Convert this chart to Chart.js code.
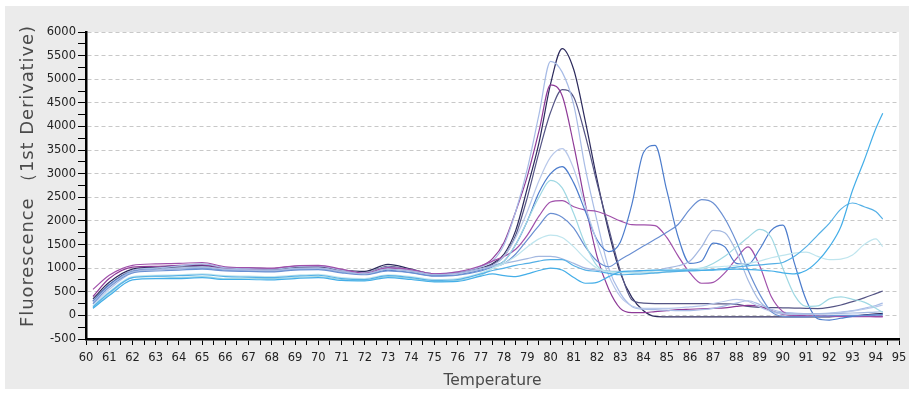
<!DOCTYPE html>
<html><head><meta charset="utf-8">
<script src="https://cdn.jsdelivr.net/npm/chart.js@4"></script>
<style>
html,body{margin:0;padding:0;background:#fff;}
#frame{position:absolute;left:5px;top:6px;width:904px;height:383px;background:#ebebeb;}
#wrap{position:absolute;left:0;top:0;width:920px;height:394px;}
</style></head><body>
<div id="frame"></div>
<div id="wrap"><canvas id="c" width="920" height="394"></canvas></div>
<script>
const temps = [60.3,61,62,63,64,65,66,67,68,69,70,71,72,73,74,75,76,77,
  77.5,78,78.5,79,79.5,80,80.5,81,81.5,82,82.5,83,
  83.5,84,84.5,85,85.5,86,86.5,87,87.5,88,88.5,89,
  89.5,90,90.5,91,91.5,92,92.5,93,93.5,94,94.3];

const navyA = [350,700,980,1020,1050,1060,1000,1000,990,1020,1030,960,930,1080,980,880,900,1000,
  1100,1300,1800,2700,3650,4900,5650,5200,4100,2880,1780,900,
  380,100,-20,-30,-30,-30,-30,-30,-30,-30,-30,-30,
  -30,-30,-30,-30,-30,-30,-20,-10,10,30,40];
const slateB = [300,650,950,1000,1020,1040,990,990,970,1010,1020,950,900,1040,960,870,890,980,
  1080,1250,1700,2500,3450,4300,4780,4620,3800,2800,1850,950,
  330,260,250,250,250,250,250,245,245,240,190,170,
  165,160,155,150,145,170,220,290,370,460,515];
const steelC = [250,600,950,1000,1050,1090,1010,990,980,1030,1050,960,900,1020,960,880,920,1030,
  1150,1500,2200,3100,4250,5380,5150,4450,3100,2000,1000,470,
  190,130,120,110,100,100,120,150,200,260,310,230,
  130,70,50,40,40,50,70,100,150,210,260];
const purpleD = [400,780,1020,1040,1060,1070,1000,980,990,1040,1040,960,880,1000,960,870,900,1040,
  1200,1550,2200,2950,3900,4880,4650,3600,2350,1250,560,150,
  60,60,80,100,120,130,140,150,160,190,210,190,
  100,20,0,-10,-15,-20,-20,-20,-20,-20,-20];
const steelE = [200,550,900,960,1000,1030,980,960,950,990,1000,930,880,980,930,860,880,980,
  1050,1250,1650,2200,2850,3350,3530,3100,2300,1550,850,400,
  200,150,150,150,160,180,200,250,300,340,300,180,
  80,30,20,20,30,40,60,90,130,180,220];
const blueF = [300,650,930,970,990,1000,960,950,940,980,990,920,870,960,910,840,860,960,
  1050,1150,1500,2000,2600,3000,3150,2800,2200,1600,1350,1550,
  2350,3450,3600,2650,1650,1100,1150,1530,1450,1100,1080,1400,
  1800,1910,1100,330,-70,-100,-60,-20,0,10,20];
const cyanG = [150,450,800,820,800,820,780,790,780,800,820,760,740,820,780,720,740,850,
  1000,1150,1500,2000,2500,2860,2700,2150,1500,1050,930,920,
  900,900,900,920,940,960,1000,1100,1250,1450,1650,1820,
  1650,1000,430,190,200,350,390,340,280,150,60];
const magentaH = [550,850,1060,1090,1100,1120,1030,1010,1000,1050,1060,980,890,1010,970,880,920,1050,
  1150,1250,1400,1700,2100,2400,2430,2300,2230,2200,2110,2000,
  1920,1915,1900,1650,1250,900,680,700,900,1200,1450,1050,
  400,80,0,-20,-20,-20,-25,-25,-25,-30,-30];
const steelI = [250,600,900,940,960,980,940,930,920,960,970,900,860,940,900,830,850,940,
  1020,1100,1300,1600,1900,2160,2080,1850,1450,1150,1030,1180,
  1320,1470,1610,1760,1930,2250,2450,2380,2050,1560,960,450,
  80,-20,-30,-30,-20,-10,0,0,0,10,10];
const paleJ = [200,500,820,850,860,880,840,830,820,850,870,800,780,860,820,760,780,900,
  1000,1100,1250,1450,1620,1700,1650,1450,1200,1000,920,900,
  900,920,940,950,960,980,1000,1020,1040,1060,1100,1150,
  1220,1270,1320,1340,1250,1180,1190,1280,1500,1620,1455];
const skyK = [180,480,800,830,840,860,820,810,800,830,850,780,760,840,800,740,760,880,
  950,1000,1060,1100,1150,1180,1180,1050,960,930,890,860,
  870,880,900,920,930,940,950,970,990,1020,1050,1070,
  1090,1120,1250,1450,1700,1950,2250,2380,2300,2200,2040];
const skyL = [150,420,750,780,780,800,760,760,750,780,800,740,730,800,760,710,720,830,
  880,840,820,880,950,1000,960,800,680,700,820,920,
  940,950,960,960,960,960,960,960,970,980,970,960,
  940,900,880,950,1150,1450,1880,2650,3280,3950,4280];
const steelO = [280,620,920,960,990,1010,970,960,950,990,1000,930,880,980,930,860,890,990,
  1050,1100,1150,1200,1250,1250,1200,1100,1000,960,940,930,
  920,930,950,1000,1050,1150,1450,1800,1750,1350,750,300,
  100,50,30,30,30,30,40,50,60,70,80];

const series = [
  {values: skyL, color:'#44aee8'},
  {values: skyK, color:'#55b0e6'},
  {values: paleJ, color:'#bfe5ee'},
  {values: cyanG, color:'#9fd8e3'},
  {values: steelO, color:'#a4b8e0'},
  {values: steelI, color:'#6a8fd2'},
  {values: steelE, color:'#b8c8ea'},
  {values: blueF, color:'#4c7ccc'},
  {values: magentaH, color:'#a050aa'},
  {values: steelC, color:'#a8bce6'},
  {values: purpleD, color:'#8e3a97'},
  {values: slateB, color:'#555585'},
  {values: navyA, color:'#2c2a5c'}
];

const xTitle = 'Temperature';
const yTitle = 'Fluorescence （1st Derivative)';

const plotBg = {
  id: 'plotBg',
  beforeDraw(chart) {
    const {ctx, chartArea: a} = chart;
    ctx.save();
    ctx.fillStyle = '#ffffff';
    ctx.fillRect(a.left, a.top, a.right - a.left, a.bottom - a.top);
    ctx.restore();
  },
  afterDraw(chart) {
    const {ctx, chartArea: a} = chart;
    ctx.save();
    ctx.fillStyle = '#4a4a4a';
    ctx.textAlign = 'center';
    ctx.textBaseline = 'middle';
    ctx.font = '15.5px "DejaVu Sans", sans-serif';
    ctx.fillText(xTitle, (a.left + a.right) / 2, 381);
    ctx.translate(28, 176);
    ctx.rotate(-Math.PI / 2);
    ctx.font = '18px "DejaVu Sans", sans-serif';
    try { ctx.letterSpacing = '0.9px'; } catch (e) {}
    ctx.fillText(yTitle, 0, 0);
    ctx.restore();
  }
};

const tickFont = {family: '"DejaVu Sans", sans-serif', size: 11.5};

new Chart(document.getElementById('c'), {
  type: 'line',
  data: {
    datasets: series.map(s => ({
      data: temps.map((t, i) => ({x: t, y: s.values[i]})),
      borderColor: s.color,
      borderWidth: 1.2,
      pointRadius: 0,
      cubicInterpolationMode: 'monotone',
      fill: false
    }))
  },
  options: {
    responsive: false,
    animation: false,
    devicePixelRatio: 1,
    layout: {padding: {top: 32, right: 21, left: 0, bottom: 0}},
    plugins: {legend: {display: false}, tooltip: {enabled: false}},
    scales: {
      x: {
        type: 'linear', min: 60, max: 95,
        ticks: {stepSize: 0.5, autoSkip: false, maxRotation: 0,
          callback: v => Number.isInteger(v) ? String(v) : '',
          font: tickFont, color: '#222', padding: 6},
        grid: {drawOnChartArea: false, drawTicks: true, tickLength: 6, tickColor: '#000', tickWidth: 1},
        border: {display: true, color: '#000', width: 2.5},
        afterFit(s) { s.height = 55; }
      },
      y: {
        min: -500, max: 6000,
        ticks: {stepSize: 250, autoSkip: false,
          callback: v => (v % 500 === 0) ? String(v) : '',
          font: tickFont, color: '#222', padding: 2},
        grid: {
          color: c => (c.tick && c.tick.value % 500 === 0 && c.tick.value > -500) ? '#c8c8c8' : 'rgba(0,0,0,0)',
          lineWidth: 1, drawTicks: true, tickLength: 8, tickColor: '#000', tickWidth: 1},
        border: {display: true, color: '#000', width: 2.5, dash: [4, 3]},
        afterFit(s) { s.width = 86; }
      }
    }
  },
  plugins: [plotBg]
});
</script>
</body></html>
